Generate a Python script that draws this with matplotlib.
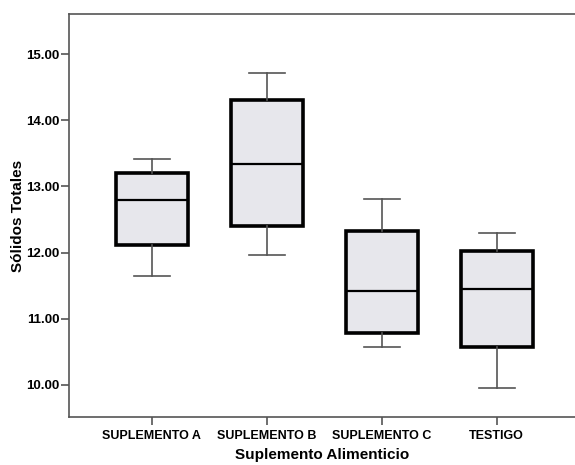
import matplotlib
matplotlib.use("Agg")
import matplotlib.pyplot as plt

categories = ["SUPLEMENTO A", "SUPLEMENTO B", "SUPLEMENTO C", "TESTIGO"]
whisker_low = [11.64, 11.97, 10.58, 9.96]
q1 = [12.11, 12.40, 10.78, 10.57]
median = [12.80, 13.34, 11.42, 11.45]
q3 = [13.21, 14.30, 12.32, 12.03]
whisker_high = [13.41, 14.72, 12.81, 12.30]
yticks = [10.0, 11.0, 12.0, 13.0, 14.0, 15.0]

plt.rcParams['font.family'] = ['Liberation Sans', 'DejaVu Sans']

fig = plt.figure(figsize=(5.75, 4.65), dpi=100)
ax = fig.add_axes([69/575, 48/465, 1 - 69/575, (417-14)/465])

stats = []
for i, c in enumerate(categories):
    stats.append(dict(label=c, whislo=whisker_low[i], q1=q1[i], med=median[i],
                      q3=q3[i], whishi=whisker_high[i], fliers=[]))

ax.bxp(stats, positions=range(len(categories)), widths=0.63, patch_artist=True,
       showfliers=False,
       boxprops=dict(facecolor="#e7e7ec", edgecolor="black", linewidth=2.6),
       medianprops=dict(color="black", linewidth=1.6),
       whiskerprops=dict(color="#555555", linewidth=1.2),
       capprops=dict(color="#555555", linewidth=1.2),
       capwidths=0.31)

ax.set_xlim(-0.72, 3.68)
ax.set_ylim(9.515, 15.606)
ax.set_yticks(yticks)
ax.set_yticklabels([f"{v:.2f}" for v in yticks], fontsize=9.5, fontweight="bold")
ax.set_xticks(range(len(categories)))
ax.set_xticklabels(categories, fontsize=9, fontweight="bold")
ax.tick_params(axis="both", direction="out", length=6, width=1.2, color="#555555")
ax.tick_params(axis="x", pad=3)
ax.tick_params(axis="y", pad=1)

for s in ["left", "bottom", "top"]:
    ax.spines[s].set_color("#555555")
    ax.spines[s].set_linewidth(1.2)
ax.spines["right"].set_visible(False)

ax.set_xlabel("Suplemento Alimenticio", fontsize=11, fontweight="bold", labelpad=5)
ax.set_ylabel("Sólidos Totales", fontsize=11, fontweight="bold", labelpad=1)

fig.savefig("out.png", dpi=100)
